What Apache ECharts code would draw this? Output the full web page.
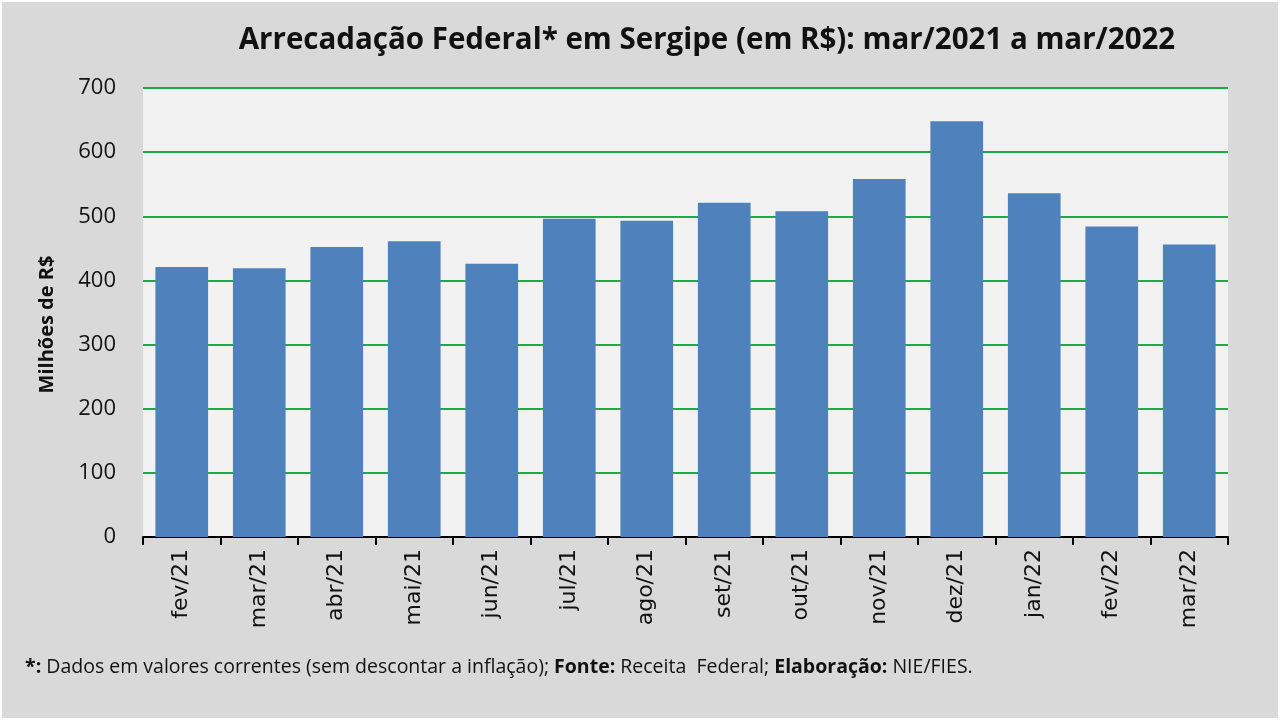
<!DOCTYPE html>
<html>
<head>
<meta charset="utf-8">
<script src="https://cdn.jsdelivr.net/npm/echarts@6/dist/echarts.min.js"></script>
<style>
  html, body { margin: 0; padding: 0; background: #ffffff; }
  #main { width: 1276px; height: 716px; margin: 2px; background: #d9d9d9; }
</style>
</head>
<body>
<div id="main"></div>
<script>
// dados (milhoes de R$)
var meses = ['fev/21', 'mar/21', 'abr/21', 'mai/21', 'jun/21', 'jul/21', 'ago/21',
             'set/21', 'out/21', 'nov/21', 'dez/21', 'jan/22', 'fev/22', 'mar/22'];
var arrecadacao = [421, 419, 452, 461, 426, 496, 493, 521, 508, 558, 648, 536, 484, 456];
var yTicks = [0, 100, 200, 300, 400, 500, 600, 700];

var chart = echarts.init(document.getElementById('main'));

chart.setOption({
    backgroundColor: '#d9d9d9',
    animation: false,
    textStyle: { fontFamily: 'Open Sans' },
    title: [{
        text: 'Arrecadação Federal* em Sergipe (em R$): mar/2021 a mar/2022',
        left: 700,
        textAlign: 'center',
        top: 19,
        textStyle: { fontSize: 29.5, fontWeight: 'bold', color: '#111111', fontFamily: 'Open Sans' }
    }, {
        text: '{b|*:} Dados em valores correntes (sem descontar a inflação); {b|Fonte:} Receita  Federal; {b|Elaboração:} NIE/FIES.',
        left: 18,
        top: 650,
        textStyle: {
            fontSize: 19.5, fontWeight: 'normal', color: '#111111', fontFamily: 'Open Sans',
            rich: {
                b: { fontSize: 19.5, fontWeight: 'bold', color: '#111111', fontFamily: 'Open Sans' }
            }
        }
    }],
    grid: {
        left: 141,
        right: 50,
        top: 86,
        bottom: 181,
        show: true,
        backgroundColor: '#f2f2f2',
        borderWidth: 0
    },
    xAxis: {
        type: 'category',
        data: meses,
        axisLine: { lineStyle: { color: '#000000', width: 2 } },
        axisTick: { show: true, alignWithLabel: false, length: 8, lineStyle: { color: '#000000', width: 2 } },
        axisLabel: { rotate: 90, fontSize: 22, color: '#111111', margin: 12, fontFamily: 'DejaVu Sans' }
    },
    yAxis: {
        type: 'value',
        min: yTicks[0],
        max: yTicks[yTicks.length - 1],
        interval: 100,
        name: 'Milhões de R$',
        nameLocation: 'middle',
        nameGap: 86,
        nameTextStyle: { fontSize: 20, fontWeight: 'bold', color: '#111111', fontFamily: 'Open Sans', padding: [0, 24, 0, 0] },
        axisLine: { show: false },
        axisTick: { show: false },
        axisLabel: { fontSize: 22, color: '#111111', margin: 27, fontFamily: 'Open Sans' },
        splitLine: { lineStyle: { color: '#1faa4a', width: 2 } }
    },
    series: [{
        name: 'Arrecadação',
        type: 'bar',
        data: arrecadacao,
        barWidth: '68%',
        itemStyle: { color: '#4f81bd' }
    }]
});
</script>
</body>
</html>
